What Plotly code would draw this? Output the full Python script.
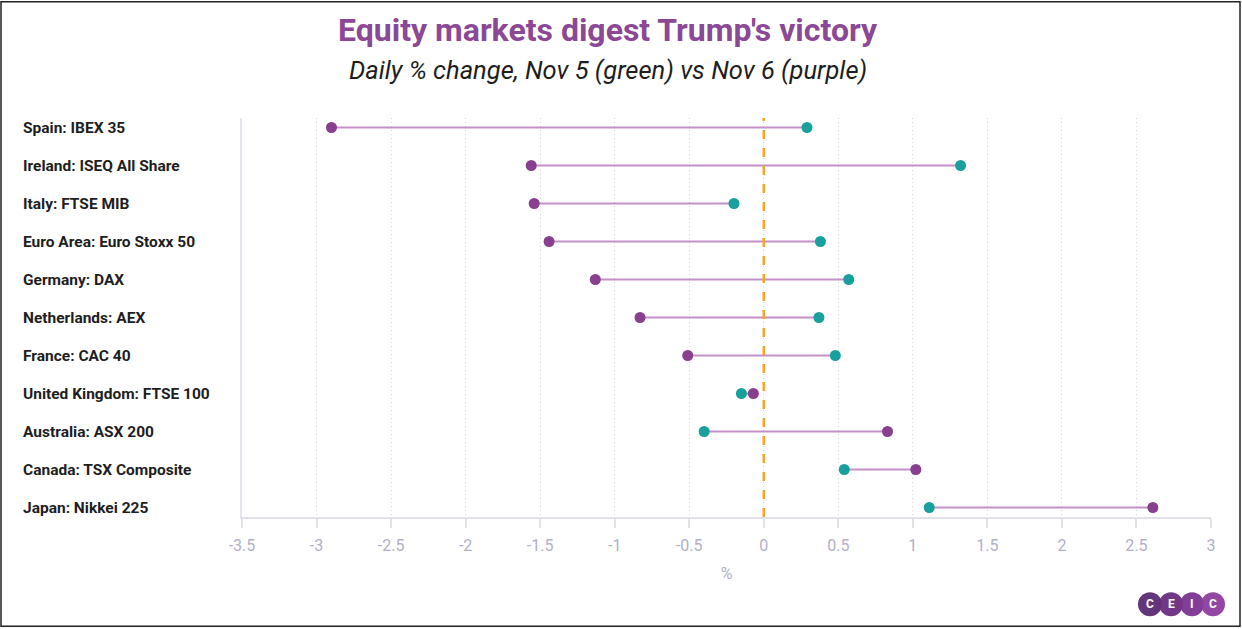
import plotly.graph_objects as go

categories = ["Spain: IBEX 35", "Ireland: ISEQ All Share", "Italy: FTSE MIB",
              "Euro Area: Euro Stoxx 50", "Germany: DAX", "Netherlands: AEX",
              "France: CAC 40", "United Kingdom: FTSE 100", "Australia: ASX 200",
              "Canada: TSX Composite", "Japan: Nikkei 225"]
nov5 = [0.29, 1.32, -0.20, 0.38, 0.57, 0.37, 0.48, -0.15, -0.40, 0.54, 1.11]
nov6 = [-2.90, -1.56, -1.54, -1.44, -1.13, -0.83, -0.51, -0.07, 0.83, 1.02, 2.61]
xticks = [-3.5, -3, -2.5, -2, -1.5, -1, -0.5, 0, 0.5, 1, 1.5, 2, 2.5, 3]
xticktext = ["-3.5", "-3", "-2.5", "-2", "-1.5", "-1", "-0.5", "0", "0.5", "1", "1.5", "2", "2.5", "3"]
logo_letters = ["C", "E", "I", "C"]
logo_colors = ["#5b2a73", "#6a2d80", "#7b3390", "#8e3c9f"]

W, H = 1242, 629
ML, MR, MT, MB = 242, 31, 117.5, 111.5
PW, PH = W - ML - MR, H - MT - MB

def px(x):
    return (x - ML) / PW

def py(y):
    return (H - MB - y) / PH

PURPLE = "#873f8e"
TEAL = "#17a09c"
LINE = "#c590c8"
AXIS_TXT = "#b2afc8"

fig = go.Figure()

lx, ly = [], []
for c, a, b in zip(categories, nov5, nov6):
    lx += [a, b, None]
    ly += [c, c, None]
fig.add_trace(go.Scatter(x=lx, y=ly, mode="lines", line=dict(color=LINE, width=2.2),
                         hoverinfo="skip", showlegend=False))
fig.add_trace(go.Scatter(x=nov5, y=categories, mode="markers", name="Nov 5",
                         marker=dict(color=TEAL, size=11), showlegend=False))
fig.add_trace(go.Scatter(x=nov6, y=categories, mode="markers", name="Nov 6",
                         marker=dict(color=PURPLE, size=11), showlegend=False))

annotations = []
for c in categories:
    annotations.append(dict(xref="paper", yref="y", x=px(21), y=c, text=c, showarrow=False,
                            xanchor="left", yanchor="middle",
                            font=dict(family="Roboto", size=15.5, color="#1e1e1e", weight="bold")))
annotations.append(dict(xref="paper", yref="paper", x=px(608), y=py(29),
                        text="<b>Equity markets digest Trump's victory</b>", showarrow=False,
                        xanchor="center", yanchor="middle",
                        font=dict(family="Roboto", size=32, color="#8b4896")))
annotations.append(dict(xref="paper", yref="paper", x=px(608), y=py(69),
                        text="<i>Daily % change, Nov 5 (green) vs Nov 6 (purple)</i>", showarrow=False,
                        xanchor="center", yanchor="middle",
                        font=dict(family="Roboto", size=25.5, color="#1e1e1e")))

shapes = []
shapes.append(dict(type="line", xref="x", yref="paper", x0=0, x1=0, y0=0, y1=1,
                   line=dict(color="#f5a52a", width=2.5, dash="dash"), layer="above"))
shapes.append(dict(type="rect", xref="paper", yref="paper", x0=px(1), x1=px(W - 2),
                   y0=py(H - 2), y1=py(1), line=dict(color="#222222", width=1.5)))
centers = [1150, 1171, 1192, 1213]
r = 12
for cx, col, letter in zip(centers, logo_colors, logo_letters):
    shapes.append(dict(type="circle", xref="paper", yref="paper", x0=px(cx - r), x1=px(cx + r),
                       y0=py(605 + r), y1=py(605 - r), fillcolor=col, line=dict(width=0),
                       opacity=0.95))
    annotations.append(dict(xref="paper", yref="paper", x=px(cx), y=py(605), text=letter,
                            showarrow=False, xanchor="center", yanchor="middle",
                            font=dict(family="Roboto", size=12, color="white", weight="bold")))

fig.update_layout(
    width=W, height=H,
    margin=dict(l=ML, r=MR, t=MT, b=MB),
    paper_bgcolor="white", plot_bgcolor="white",
    annotations=annotations, shapes=shapes,
    xaxis=dict(range=[-3.5, 3], tickvals=xticks, ticktext=xticktext,
               showgrid=True, gridcolor="#d4d4da", griddash="1px,3px", gridwidth=1,
               zeroline=False, showline=True, linecolor="#e2e1ea", linewidth=2,
               ticks="outside", ticklen=9, tickcolor="#e2e1ea", tickwidth=1.5,
               ticklabelstandoff=4,
               tickfont=dict(family="Roboto", size=16, color=AXIS_TXT),
               title=dict(text="%", font=dict(family="Roboto", size=16, color=AXIS_TXT), standoff=14)),
    yaxis=dict(type="category", categoryorder="array", categoryarray=categories,
               range=[len(categories) - 0.75, -0.25], showticklabels=False, ticks="",
               showgrid=False, zeroline=False, showline=True, linecolor="#e6e5ee", linewidth=1.5),
)

fig.write_html("out.html", config={"displayModeBar": False},
               post_script="document.body.style.margin='0';document.body.style.overflow='hidden';")
